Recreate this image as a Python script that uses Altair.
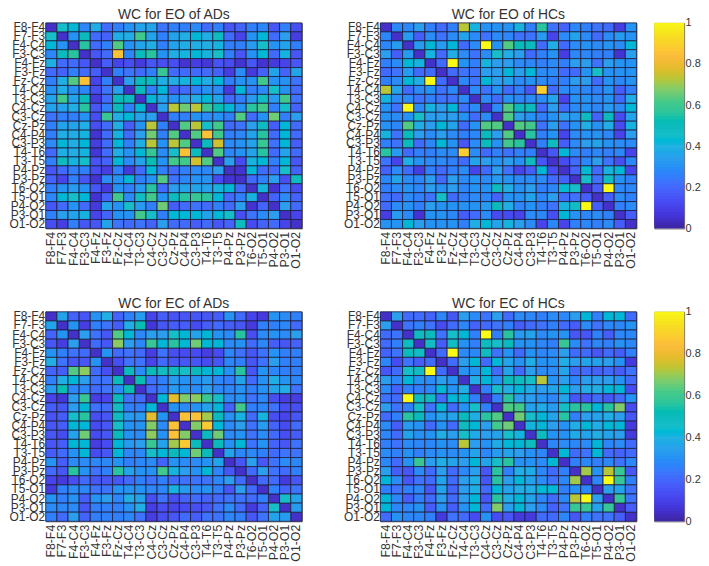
import altair as alt
import pandas as pd

channels = ["F8-F4","F7-F3","F4-C4","F3-C3","F4-Fz","F3-Fz","Fz-Cz","T4-C4","T3-C3","C4-Cz","C3-Cz","Cz-Pz",
            "C4-P4","C3-P3","T4-T6","T3-T5","P4-Pz","P3-Pz","T6-O2","T5-O1","P4-O2","P3-O1","O1-O2"]

parula = ["#3e26a8","#4435d8","#4748f0","#475df9","#3e74fe","#2c8bf7","#2d9fed","#24b0e2","#18bec9","#0bbaba","#2ec59c",
          "#47ca88","#7ecc6c","#bcc536","#e8bb2d","#fcbc3c","#fad12c","#f6e41e","#f9fb15"]
colorbar_levels = [i / 64 for i in range(64)]
colorbar_ticks = [0, 0.2, 0.4, 0.6, 0.8, 1]

eo_ad = [
[45,42,27,38,20,25,30,35,35,22,25,25,28,20,25,15,18,25,27,15,25,13],
[30,50,20,18,38,38,60,35,25,35,38,42,38,48,20,10,30,42,20,33,8],
[55,20,25,62,30,35,38,25,35,38,38,38,40,25,25,32,45,30,35,25],
[15,20,85,27,50,55,30,38,40,42,40,45,25,15,30,42,20,40,15],
[17,10,13,7,15,13,13,5,8,6,14,12,5,15,5,7,10,15],
[25,22,20,25,58,20,20,20,20,18,8,28,7,18,35,18,35],
[33,50,50,38,38,40,42,38,42,25,30,30,60,30,30,22],
[50,25,42,17,20,25,30,28,7,42,25,28,45,30,20],
[42,35,30,33,38,42,35,20,25,32,47,32,60,22],
[33,72,65,72,58,52,42,30,55,60,25,45,18],
[25,25,30,28,30,25,62,20,30,65,25,33],
[62,72,45,60,20,22,33,48,17,42,20],
[62,85,60,25,27,35,55,20,42,20],
[50,75,28,30,35,58,22,42,17],
[62,27,30,35,55,20,35,20],
[33,12,40,42,25,42,15],
[5,42,20,20,45,18],
[20,25,33,13,48],
[40,5,22,12],
[18,28,18],
[33,20],
[10],
]

eo_hc = [
[27,27,33,25,20,25,72,40,30,30,30,40,25,55,22,18,27,25,22,20,8,30],
[32,17,28,22,28,35,28,22,28,27,22,22,32,10,28,35,28,20,28,32,30],
[32,42,32,42,20,28,100,30,62,50,50,20,38,20,28,30,28,30,28,42],
[40,20,38,28,22,28,45,38,33,20,25,30,8,27,27,25,25,5,33],
[20,100,30,25,40,33,33,28,27,25,28,25,33,33,22,33,30,30],
[20,22,22,33,33,42,33,42,28,28,20,20,30,45,30,30,30],
[27,22,42,33,35,28,30,28,25,25,33,33,20,30,27,30],
[28,22,30,20,25,15,88,20,28,28,27,25,30,17,25],
[28,20,30,27,28,28,35,10,30,30,28,30,20,38],
[28,62,50,50,20,33,20,28,30,27,32,28,42],
[62,33,30,25,30,33,32,48,18,50,12,35],
[62,60,22,33,22,30,38,30,38,12,40],
[55,25,30,10,28,30,30,27,10,33],
[25,48,17,28,33,35,30,28,28],
[15,42,28,25,27,25,27,10],
[12,20,27,33,22,13,27],
[18,43,20,40,42,10],
[45,22,47,30,25],
[17,100,27,27],
[17,28,25],
[25,28],
[17],
]

ec_ad = [
[35,18,15,30,38,18,25,32,10,17,14,15,15,15,17,30,20,10,7,30,28,25],
[30,8,25,22,17,38,52,6,15,17,17,12,17,20,17,15,7,25,25,27,20],
[33,22,15,62,42,27,33,33,45,42,35,42,30,28,55,13,28,30,28,33],
[20,15,68,33,27,58,42,55,42,65,42,42,28,30,20,27,17,15,18],
[30,20,22,20,8,22,13,12,12,8,12,27,22,15,22,30,25,25],
[13,22,22,10,20,15,15,15,12,15,27,25,15,22,33,25,25],
[50,28,50,47,48,45,50,42,42,30,55,15,30,27,25,25],
[52,22,25,32,30,30,32,27,25,35,20,30,38,30,27],
[20,25,32,30,28,33,27,27,30,25,30,35,38,22],
[42,77,67,68,58,45,28,30,22,27,13,8,8],
[30,28,30,35,42,18,60,25,27,22,13,13],
[85,85,70,50,30,40,20,40,13,10,15],
[67,87,42,28,33,22,32,18,12,20],
[50,65,28,30,22,28,20,13,17],
[50,30,42,22,30,18,15,22],
[35,27,27,25,20,22,22],
[15,33,15,22,28,27],
[20,33,22,20,25],
[20,20,7,15],
[25,18,22],
[45,35],
[32],
]

ec_hc = [
[33,20,20,18,27,15,33,28,22,33,20,28,27,25,28,27,33,42,25,42,42,20],
[22,25,22,12,20,27,18,20,22,25,17,20,22,25,20,17,28,22,27,27,30],
[48,50,22,45,42,25,100,25,55,32,35,28,30,30,15,15,25,17,27,27],
[47,17,47,30,25,48,45,50,30,30,27,25,58,28,22,27,25,30,27],
[20,100,28,27,48,22,30,20,30,27,28,33,20,20,15,20,17,25],
[20,33,42,20,42,35,30,38,30,30,38,33,35,35,33,30,7],
[30,30,42,20,35,20,33,28,28,35,20,20,18,20,17,22],
[38,42,30,50,48,45,72,30,33,27,33,33,33,30,20],
[25,45,38,42,37,33,35,42,33,38,38,42,42,12],
[25,55,33,33,30,27,35,15,15,20,15,20,30],
[62,60,35,37,32,45,55,55,42,55,67,12],
[65,45,42,35,55,25,33,35,38,33,15],
[40,42,33,30,38,42,38,42,42,7],
[48,30,30,37,35,38,35,33,7],
[27,28,27,28,42,27,28,20],
[42,20,22,42,20,18,20],
[25,27,25,27,22,27],
[70,30,72,58,15],
[27,100,58,25],
[33,35,22],
[57,22],
[17],
]

diagonal_value = 4
color_scale = alt.Scale(domain=[0, 1], range=parula)
band = dict(domain=channels, paddingInner=0, paddingOuter=0, round=False)


def long_table(tri):
    recs = []
    for i, name in enumerate(channels):
        recs.append({"r": name, "c": name, "v": diagonal_value / 100})
    for i, row in enumerate(tri):
        for k, val in enumerate(row):
            j = i + 1 + k
            recs.append({"r": channels[i], "c": channels[j], "v": val / 100})
            recs.append({"r": channels[j], "c": channels[i], "v": val / 100})
    return pd.DataFrame(recs)


def panel(tri, title, height):
    return alt.Chart(long_table(tri)).mark_rect(stroke="#1c1c3c", strokeWidth=0.8).encode(
        x=alt.X("c:N", sort=channels, title=None, scale=alt.Scale(**band),
                axis=alt.Axis(labelAngle=270, labelOverlap=False, ticks=False, domain=False, labelPadding=3,
                              labelFontSize=12.4, labelFont="Liberation Sans", labelColor="#333333", labelBaseline="middle", labelAlign="right")),
        y=alt.Y("r:N", sort=channels, title=None, scale=alt.Scale(**band),
                axis=alt.Axis(labelOverlap=False, ticks=False, domain=False, labelPadding=1,
                              labelFontSize=12, labelFont="Liberation Sans", labelColor="#333333")),
        color=alt.Color("v:Q", scale=color_scale, legend=None),
        tooltip=["r", "c", "v"],
    ).properties(width=258, height=height,
                 title=alt.TitleParams(title, fontSize=14, fontWeight="normal", font="Liberation Sans", color="#333333", offset=-1))


def colorbar(height):
    df = pd.DataFrame({"lo": colorbar_levels})
    df["hi"] = [min(1.0, v + 2 / 64) for v in colorbar_levels]
    return alt.Chart(df).mark_rect().encode(
        y=alt.Y("lo:Q", title=None, scale=alt.Scale(domain=[0, 1], nice=False),
                axis=alt.Axis(orient="right", values=colorbar_ticks, format=".1~f", grid=False, domain=False, ticks=False,
                              labelPadding=1, labelFontSize=11, labelFont="Liberation Sans", labelColor="#333333")),
        y2="hi:Q",
        color=alt.Color("lo:Q", scale=color_scale, legend=None),
    ).properties(width=30, height=height)


def row(left, right, bar_height):
    pair = alt.hconcat(right, colorbar(bar_height), spacing=16).resolve_scale(color="independent", y="independent")
    return alt.hconcat(left, pair, spacing=40).resolve_scale(color="independent", y="independent")


top = row(panel(eo_ad, "WC for EO of ADs", 207), panel(eo_hc, "WC for EO of HCs", 207), 207)
bottom = row(panel(ec_ad, "WC for EC of ADs", 211), panel(ec_hc, "WC for EC of HCs", 211), 211)
chart = alt.vconcat(top, bottom, spacing=27).resolve_scale(color="independent", y="independent").properties(
    padding={"left": 0, "top": -3, "right": 0, "bottom": 0}, background="white"
).configure_view(stroke="#666666", strokeWidth=1)

chart.save("out.html", embed_options={"renderer": "svg", "actions": False})
